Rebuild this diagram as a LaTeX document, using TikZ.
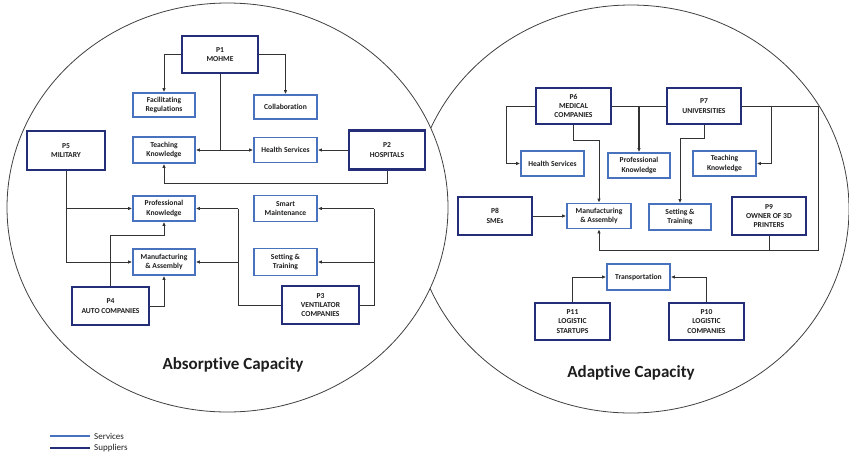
\documentclass[tikz,border=0pt]{standalone}
\usepackage{fontspec}
\setmainfont{Carlito}[Ligatures=NoCommon]
\usetikzlibrary{arrows.meta}
\definecolor{navy}{RGB}{36,46,120}
\definecolor{svcblue}{RGB}{72,114,190}
\definecolor{ink}{RGB}{30,30,30}
\begin{document}
\begin{tikzpicture}[x=1pt,y=-1pt,
  wh/.style 2 args={minimum width=#1pt,minimum height=#2pt},
  base/.style={draw,fill=white,inner sep=0pt,align=center,text=ink,
    font=\bfseries\fontsize{7.6}{9.4}\selectfont},
  svc/.style={base,draw=svcblue,line width=1.8pt},
  sup/.style={base,draw=navy,line width=2.3pt},
  conn/.style={draw=black!80,line width=0.9pt},
  arr/.style={conn,-{Latex[length=4pt,width=3.6pt]}},
  ell/.style={draw=black!75,line width=0.8pt},
  title/.style={font=\bfseries\fontsize{17}{20}\selectfont,text=ink},
  legtext/.style={anchor=west,inner sep=0pt,text=ink,font=\fontsize{9}{10}\selectfont}]
\useasboundingbox (0,0) rectangle (849,456);
% ellipses
\draw[ell] (631,209) ellipse [x radius=218pt,y radius=204pt];
\draw[ell,fill=white] (227.5,207.5) ellipse [x radius=220.5pt,y radius=204.5pt];

% ---------- left (absorptive) ----------
\node[sup,wh={76}{37}] (p1) at (220,54.5) {P1\\MOHME};
\node[svc,wh={62}{24}] (fr) at (164,105) {Facilitating\\Regulations};
\node[svc,wh={63}{24}] (col) at (285.5,107) {Collaboration};
\node[svc,wh={62}{26}] (tkL) at (164,150) {Teaching\\Knowledge};
\node[svc,wh={63}{25}] (hsL) at (285.5,150) {Health Services};
\node[sup,wh={78}{39}] (p5) at (66,150.5) {P5\\MILITARY};
\node[sup,wh={76}{39}] (p2) at (387,150) {P2\\HOSPITALS};
\node[svc,wh={62}{25}] (pkL) at (164,208.5) {Professional\\Knowledge};
\node[svc,wh={63}{26}] (sm) at (285.5,208.5) {Smart\\Maintenance};
\node[svc,wh={62}{26}] (maL) at (164,262) {Manufacturing\\\& Assembly};
\node[svc,wh={63}{27}] (stL) at (285.5,262) {Setting \&\\Training};
\node[sup,wh={77}{38}] (p4) at (110.5,306) {P4\\AUTO COMPANIES};
\node[sup,wh={77}{38}] (p3) at (320.5,305) {P3\\VENTILATOR\\COMPANIES};

\draw[arr] (p1.west) -| (fr.north);
\draw[arr] (p1.east) -| (col.north);
\coordinate (j1) at (p1.south |- tkL.east);
\draw[conn] (p1.south) -- (j1);
\draw[arr] (j1) -- (tkL.east);
\draw[arr] (j1) -- (hsL.west);
\draw[arr] (p2.west) -- (hsL.east);
\coordinate (b2) at (164,183);
\draw[arr] (p2.south) |- (b2) -- (tkL.south);
\draw[conn] (p5.south) -- (p5.south |- maL.west);
\draw[arr] (p5.south |- pkL.west) -- (pkL.west);
\draw[arr] (p5.south |- maL.west) -- (maL.west);
\coordinate (b4) at (164,235);
\draw[arr] (p4.north) |- (b4) -- (pkL.south);
\draw[arr] (p4.east) -| (maL.south);
\coordinate (b3l) at (238,208.5);
\draw[conn] (p3.west) -| (b3l);
\draw[arr] (b3l) -- (pkL.east);
\draw[arr] (b3l |- maL.east) -- (maL.east);
\coordinate (b3r) at (374,208.5);
\draw[conn] (p3.east) -| (b3r);
\draw[arr] (b3r) -- (sm.east);
\draw[arr] (b3r |- stL.east) -- (stL.east);

% ---------- right (adaptive) ----------
\node[sup,wh={75}{36}] (p6) at (573.5,106) {P6\\MEDICAL\\COMPANIES};
\node[sup,wh={74}{36}] (p7) at (704,106) {P7\\UNIVERSITIES};
\node[svc,wh={63}{25}] (hsR) at (552.5,163.5) {Health Services};
\node[svc,wh={62}{25}] (pkR) at (639,165.5) {Professional\\Knowledge};
\node[svc,wh={63}{25}] (tkR) at (724.5,163.5) {Teaching\\Knowledge};
\node[sup,wh={74}{38}] (p8) at (495,216) {P8\\SMEs};
\node[svc,wh={64}{25}] (maR) at (599,216) {Manufacturing\\\& Assembly};
\node[svc,wh={62}{26}] (stR) at (680,217) {Setting \&\\Training};
\node[sup,wh={74}{38}] (p9) at (769,216) {P9\\OWNER OF 3D\\PRINTERS};
\node[svc,wh={63}{26}] (tr) at (638.5,277) {Transportation};
\node[sup,wh={75}{37}] (p11) at (572.5,321.5) {P11\\LOGISTIC\\STARTUPS};
\node[sup,wh={75}{37}] (p10) at (706.5,321.5) {P10\\LOGISTIC\\COMPANIES};

\coordinate (b6) at (506,163.5);
\draw[arr] (p6.west) -| (b6) -- (hsR.west);
\draw[conn] (p6.east) -- (p7.west);
\draw[arr,line width=1.2pt] (pkR.north |- p6.east) -- (pkR.north);
\coordinate (b6m) at (599,140);
\draw[arr] (p6.south) |- (b6m) -- (maR.north);
\coordinate (b7s) at (680,138);
\draw[arr] (p7.south) |- (b7s) -- (stR.north);
\coordinate (b7r) at (818,250);
\draw[arr] (p7.east) -| (b7r) -| (maR.south);
\coordinate (b7t) at (771,106);
\draw[arr] (b7t) |- (tkR.east);
\draw[conn] (p9.south) -- (p9.south |- b7r);
\draw[arr] (p8.east) -- (maR.west);
\draw[arr] (p11.north) |- (tr.west);
\draw[arr] (p10.north) |- (tr.east);

% titles
\node[title] (abs) at (233,365) {Absorptive Capacity};
\node[title] (ada) at (631,373) {Adaptive Capacity};

% legend
\coordinate (l1a) at (50,436); \coordinate (l1b) at (90,436);
\coordinate (l2a) at (50,448); \coordinate (l2b) at (90,448);
\draw[svcblue,line width=1.4pt] (l1a) -- (l1b);
\draw[navy,line width=1.6pt] (l2a) -- (l2b);
\node[legtext] (lg1) at ([xshift=4pt]l1b) {Services};
\node[legtext] (lg2) at ([xshift=4pt]l2b) {Suppliers};
\end{tikzpicture}
\end{document}
